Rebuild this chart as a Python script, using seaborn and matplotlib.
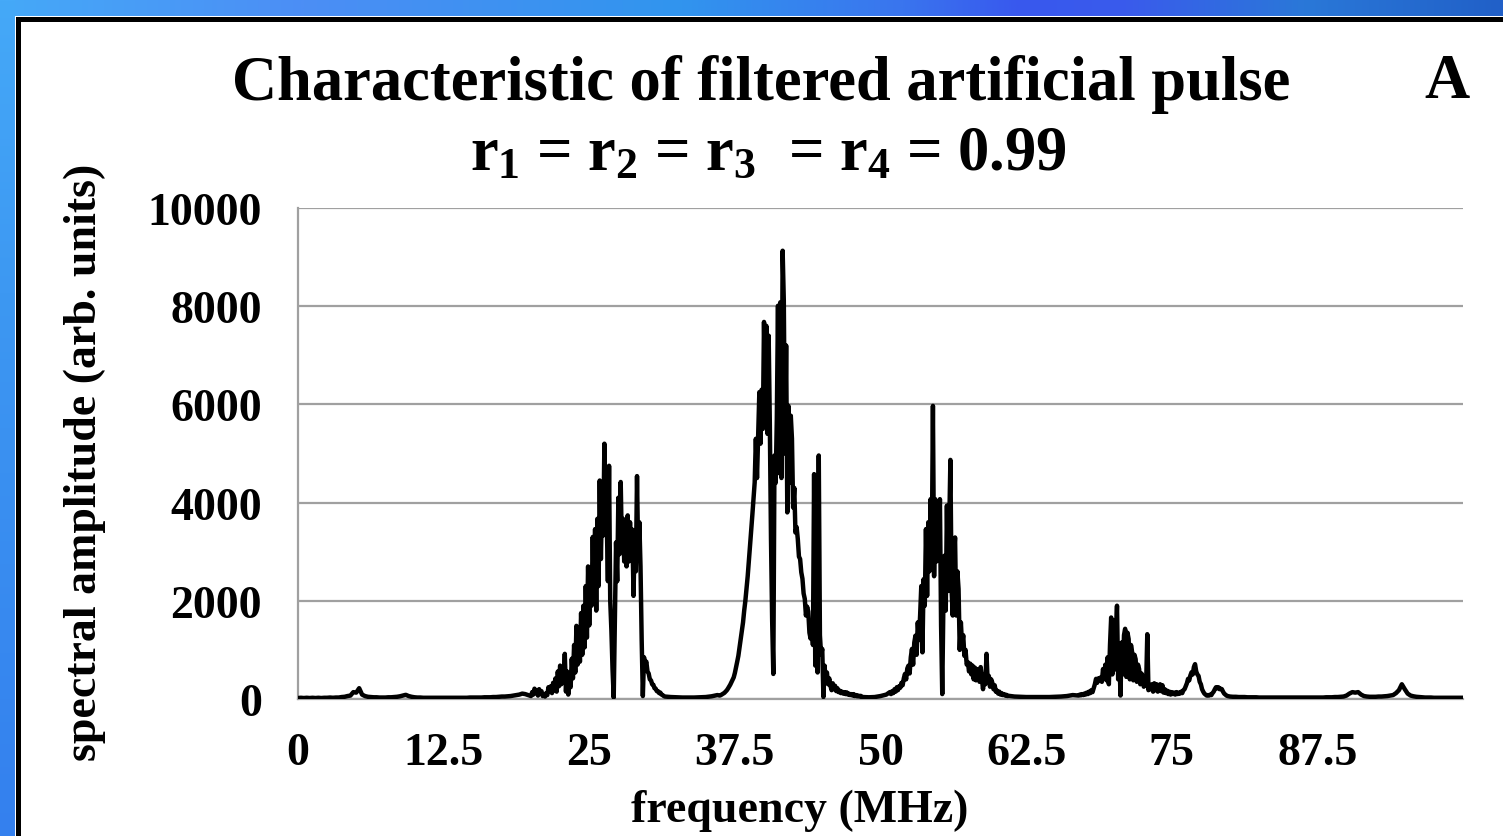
import numpy as np
import pandas as pd
import matplotlib
matplotlib.use("Agg")
import matplotlib.pyplot as plt
from matplotlib.colors import LinearSegmentedColormap
from matplotlib.patches import Rectangle
import seaborn as sns

# ---------------- spectrum data (frequency in MHz, amplitude in arb. units) ----------------
# each band: start frequency, sampling step, amplitudes
low_start, low_step = 0.0, 0.25
low_amp = [20, 25, 20, 25, 20, 25, 20, 25, 20, 25, 25, 30, 25, 30, 30, 40, 45, 60, 70, 140,
           130, 220, 90, 60, 45, 40, 35, 35, 30, 30, 30, 35, 35, 40, 45, 55, 70, 85, 60, 45,
           35, 30, 30, 25, 25, 25, 25, 25, 25, 25, 25, 25, 25, 25, 25, 25, 25, 25, 25, 30,
           30, 30, 30, 30, 35, 35, 35, 40, 40, 45, 50, 50, 55, 60, 70, 80, 90, 110, 100, 80]

band1_start, band1_step = 20.0, 0.1
band1_amp = [60, 140, 90, 210, 120, 180, 70, 200, 110, 160,
             60, 90, 50, 120, 80, 240, 150, 260, 120, 330,
             180, 420, 150, 560, 260, 680, 300, 610, 380, 920,
             150, 560, 90, 470, 240, 820, 420, 1100, 540, 1490,
             700, 1300, 760, 1750, 900, 1900, 1050, 2300, 1250, 2700,
             1500, 2600, 1900, 3300, 2100, 3460, 1800, 3670, 2300, 4450,
             2850, 4100, 3330, 5200, 3400, 3670, 2400, 4750, 2000, 1400,
             600, 30, 1600, 3190, 2400, 4100, 2950, 4420, 3100, 3670,
             2800, 3500, 2700, 3740, 2800, 3600, 2850, 3450, 2100, 3300,
             2600, 4540, 2900, 3600, 2700, 1200, 60, 850, 700, 760,
             560, 520, 400, 380, 300, 290, 220, 210, 160, 160,
             120, 130, 90, 80, 60]

gap1_start, gap1_step = 31.5, 0.5
gap1_amp = [50, 40, 35, 30, 30, 30, 35, 40, 55, 80]

band2_start, band2_step = 36.2, 0.1
band2_amp = [70, 80, 95, 110, 125, 150, 175, 210, 250, 290,
             340, 390, 440, 530, 640, 760, 880, 1050, 1220, 1390,
             1560, 1800, 2000, 2240, 2500, 2800, 3120, 3450, 3750, 4070,
             4410, 5300, 4500, 5400, 6250, 5200, 6300, 5500, 7680, 6200,
             7600, 5400, 7400, 5600, 3260, 1600, 510, 4960, 4400, 5700,
             8010, 4600, 8080, 4500, 9130, 8110, 5000, 7200, 3800, 5970,
             4400, 5770, 5300, 3900, 4300, 3390, 3500, 3260, 2900, 2850,
             2580, 2450, 2150, 2040, 1700, 1880, 1780, 1350, 1230, 1500,
             1100, 4580, 680, 1400, 540, 4960, 1300, 900, 1020, 40,
             680, 350, 540, 300, 420, 270, 180, 320, 200, 270,
             160, 220, 140, 170, 120, 150, 110, 140, 100, 135,
             90, 110, 80, 100, 70, 100, 60, 80, 55, 70,
             50, 65, 45]

gap2_start, gap2_step = 48.5, 0.5
gap2_amp = [40, 35, 40, 60, 90]

band3_start, band3_step = 50.8, 0.1
band3_amp = [140, 100, 160, 120, 200, 150, 240, 180, 260, 230,
             330, 280, 420, 510, 400, 620, 680, 520, 850, 1020,
             700, 1150, 1290, 900, 1560, 1200, 1700, 2300, 950, 2440,
             1900, 3460, 2100, 3600, 2600, 4070, 2900, 5970, 2500, 4070,
             2800, 4000, 3000, 4070, 1500, 100, 2000, 2920, 1800, 3940,
             2200, 3500, 4870, 2240, 1700, 2900, 3290, 1700, 2600, 2240,
             1000, 1560, 1100, 1300, 880, 1000, 700, 750, 560, 720,
             500, 680, 400, 640, 380, 600, 610, 350, 650, 420,
             200, 500, 300, 920, 350, 470, 250, 400, 330, 200,
             280, 150, 170, 110, 150, 90, 120, 80, 100, 70,
             85, 60, 65]

gap3_start, gap3_step = 61.5, 0.5
gap3_amp = [50, 45, 40, 40, 40, 40, 40, 45, 50, 60, 80]

band4_start, band4_step = 67.0, 0.1
band4_amp = [70, 90, 75, 100, 80, 110, 90, 130, 100, 150,
             120, 180, 140, 220, 300, 410, 330, 420, 380, 440,
             350, 610, 450, 700, 380, 850, 300, 1100, 1660, 500,
             1600, 600, 1300, 1900, 400, 900, 70, 1150, 500, 1300,
             1430, 450, 1350, 1220, 400, 1100, 950, 380, 900, 810,
             350, 700, 610, 300, 520, 470, 250, 300, 270, 1320,
             180, 270, 200, 300, 150, 320, 180, 300, 150, 260,
             300, 160, 280, 130, 200, 120, 170, 100, 150, 90,
             140, 100, 130, 90, 140, 100, 130, 110, 150, 120,
             180, 200, 260, 320, 410, 380, 480, 545, 500, 650,
             710, 560, 500, 470, 350, 300, 200, 150, 110, 90,
             70, 80, 70, 90, 80, 120, 150, 200, 240, 220,
             240, 200, 210, 200, 150, 110, 90, 70, 60, 55,
             50]

tail_start, tail_step = 80.25, 0.25
tail_amp = [45, 45, 40, 40, 40, 35, 35, 35, 35, 30, 30, 30, 30, 30, 30, 30, 30, 30, 30, 30,
            30, 30, 30, 30, 30, 30, 30, 30, 30, 30, 30, 30, 35, 35, 35, 40, 40, 45, 50, 70,
            110, 140, 130, 140, 90, 60, 50, 45, 45, 45, 50, 50, 55, 60, 70, 80, 120, 180, 300, 200,
            110, 70, 55, 45, 40, 35, 30, 30, 30, 25, 25, 25, 25, 25, 25, 25, 25, 25, 25, 25]

segments = [
    (low_start, low_step, low_amp),
    (band1_start, band1_step, band1_amp),
    (gap1_start, gap1_step, gap1_amp),
    (band2_start, band2_step, band2_amp),
    (gap2_start, gap2_step, gap2_amp),
    (band3_start, band3_step, band3_amp),
    (gap3_start, gap3_step, gap3_amp),
    (band4_start, band4_step, band4_amp),
    (tail_start, tail_step, tail_amp),
]

freq = np.concatenate([s + d * np.arange(len(a)) for s, d, a in segments])
amp = np.concatenate([np.asarray(a, dtype=float) for _, _, a in segments])
spectrum = pd.DataFrame({"frequency": freq, "amplitude": amp})

x_ticks = [0, 12.5, 25, 37.5, 50, 62.5, 75, 87.5, 100]
x_tick_labels = ["0", "12.5", "25", "37.5", "50", "62.5", "75", "87.5", ""]
y_ticks = [0, 2000, 4000, 6000, 8000, 10000]

title_main = "Characteristic of filtered artificial pulse"
title_sub = r"$r_1$ = $r_2$ = $r_3$  = $r_4$ = 0.99"
panel_tag = "A"
x_label = "frequency (MHz)"
y_label = "spectral amplitude (arb. units)"

# ---------------- styling ----------------
sns.set_theme(style="white")
plt.rcParams["font.family"] = ["Liberation Serif", "DejaVu Serif"]
plt.rcParams["font.weight"] = "bold"
plt.rcParams["text.color"] = "black"
plt.rcParams["axes.labelcolor"] = "black"
plt.rcParams["xtick.color"] = "black"
plt.rcParams["ytick.color"] = "black"
plt.rcParams["mathtext.fontset"] = "custom"
plt.rcParams["mathtext.rm"] = "Liberation Serif:bold"
plt.rcParams["mathtext.it"] = "Liberation Serif:bold"
plt.rcParams["mathtext.bf"] = "Liberation Serif:bold"

W, H = 1503, 837
fig = plt.figure(figsize=(W / 100, H / 100), dpi=100)
fig.patch.set_facecolor("white")

# blue frame: top strip (horizontal gradient) and left strip (vertical gradient)
bg = fig.add_axes([0, 0, 1, 1], zorder=-10)
bg.set_xlim(0, W)
bg.set_ylim(H, 0)
bg.axis("off")
top_cmap = LinearSegmentedColormap.from_list(
    "top", [(0.0, "#45a9f8"), (0.2, "#4c8ef5"), (0.45, "#3195ee"), (0.6, "#3a75ee"),
            (0.68, "#3858ee"), (0.75, "#3a5bec"), (0.87, "#2a78d8"), (1.0, "#2160c8")])
left_cmap = LinearSegmentedColormap.from_list(
    "left", [(0.0, "#45a9f8"), (0.35, "#3d98f2"), (1.0, "#3480ee")])
bg.imshow(np.linspace(0, 1, 512)[None, :], cmap=top_cmap, aspect="auto",
          extent=[0, W, 17, 0], zorder=0)
bg.imshow(np.linspace(0, 1, 512)[:, None], cmap=left_cmap, aspect="auto",
          extent=[0, 15, H, 0], zorder=0)
bg.add_patch(Rectangle((17.5, 19.5), W + 40, H + 40, facecolor="white",
                       edgecolor="black", linewidth=3.6, zorder=1))

# plotting area
ax = fig.add_axes([298 / W, 1 - 700 / H, (1463 - 298) / W, (700 - 209) / H])
ax.set_facecolor("none")
sns.lineplot(data=spectrum, x="frequency", y="amplitude", ax=ax, color="black",
             linewidth=3.2, sort=False, estimator=None, zorder=3)

ax.set_xlim(0, 100)
ax.set_ylim(0, 10000)
ax.set_xticks(x_ticks)
ax.set_xticklabels(x_tick_labels)
ax.set_yticks(y_ticks)
ax.set_yticklabels([str(v) for v in y_ticks])
ax.yaxis.grid(True, color="#a0a0a0", linewidth=1.6, zorder=0)
ax.xaxis.grid(False)
for side in ("top", "right"):
    ax.spines[side].set_visible(False)
for side in ("left", "bottom"):
    ax.spines[side].set_color("#a0a0a0")
    ax.spines[side].set_linewidth(1.6)
ax.tick_params(axis="both", which="major", direction="out", length=10, width=1.4,
               color="#a0a0a0", labelsize=33, labelcolor="black")
ax.tick_params(axis="x", pad=14)
ax.tick_params(axis="y", pad=16)
for lab in ax.get_xticklabels() + ax.get_yticklabels():
    lab.set_fontweight("bold")
    lab.set_color("black")
ax.set_xlabel("")
ax.set_ylabel("")

# titles and axis labels
fig.text(761 / W, 1 - 100 / H, title_main, ha="center", va="baseline",
         fontsize=45, fontweight="bold", color="black")
fig.text(768 / W, 1 - 170 / H, title_sub, ha="center", va="baseline",
         fontsize=45, fontweight="bold", color="black")
fig.text(1447 / W, 1 - 98 / H, panel_tag, ha="center", va="baseline",
         fontsize=45, fontweight="bold", color="black")
fig.text(800 / W, 1 - 822 / H, x_label, ha="center", va="baseline",
         fontsize=33, fontweight="bold", color="black")
fig.text(85 / W, 1 - 462 / H, y_label, ha="center", va="center", rotation=90,
         fontsize=33, fontweight="bold", color="black")

fig.savefig("out.png", dpi=100)
